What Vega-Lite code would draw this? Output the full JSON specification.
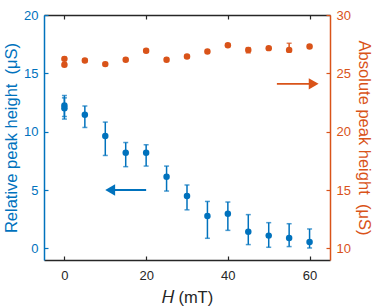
{
  "$schema": "https://vega.github.io/schema/vega-lite/v6.json",
  "width": 286,
  "height": 245,
  "autosize": {"type": "none"},
  "padding": {"left": 44, "top": 15, "right": 44, "bottom": 46},
  "config": {
    "font": "Liberation Sans",
    "view": {"stroke": null},
    "axis": {
      "grid": false,
      "labelFontSize": 13,
      "titleFontSize": 16.5,
      "titleFontWeight": "normal",
      "tickSize": -4,
      "domainWidth": 1.5,
      "tickWidth": 1.2,
      "labelPadding": 10
    }
  },
  "datasets": {
    "rel": [
      {"H": 0, "v": 12.25, "lo": 11.3, "hi": 13.1},
      {"H": 0, "v": 12.0, "lo": 11.08, "hi": 12.9},
      {"H": 5, "v": 11.45, "lo": 10.36, "hi": 12.2},
      {"H": 10, "v": 9.62, "lo": 7.96, "hi": 10.82},
      {"H": 15, "v": 8.2, "lo": 7.0, "hi": 9.07},
      {"H": 20, "v": 8.2, "lo": 7.05, "hi": 8.88},
      {"H": 25, "v": 6.14, "lo": 4.91, "hi": 7.05},
      {"H": 30, "v": 4.48, "lo": 3.3, "hi": 5.43},
      {"H": 35, "v": 2.77, "lo": 0.86, "hi": 4.02},
      {"H": 40, "v": 2.97, "lo": 1.54, "hi": 3.97},
      {"H": 45, "v": 1.43, "lo": 0.32, "hi": 2.89},
      {"H": 50, "v": 1.09, "lo": 0.09, "hi": 2.2},
      {"H": 55, "v": 0.89, "lo": 0.15, "hi": 2.11},
      {"H": 60, "v": 0.55, "lo": 0.03, "hi": 1.66}
    ],
    "abs": [
      {"H": 0, "v": 26.24, "lo": 26.1, "hi": 26.38},
      {"H": 0, "v": 25.73, "lo": 25.6, "hi": 25.86},
      {"H": 5, "v": 26.1, "lo": 25.98, "hi": 26.22},
      {"H": 10, "v": 25.79, "lo": 25.66, "hi": 25.92},
      {"H": 15, "v": 26.17, "lo": 26.05, "hi": 26.29},
      {"H": 20, "v": 26.93, "lo": 26.8, "hi": 27.06},
      {"H": 25, "v": 26.16, "lo": 26.03, "hi": 26.29},
      {"H": 30, "v": 26.44, "lo": 26.32, "hi": 26.56},
      {"H": 35, "v": 26.87, "lo": 26.75, "hi": 26.99},
      {"H": 40, "v": 27.41, "lo": 27.29, "hi": 27.53},
      {"H": 45, "v": 27.01, "lo": 26.75, "hi": 27.2},
      {"H": 50, "v": 27.16, "lo": 27.04, "hi": 27.28},
      {"H": 55, "v": 27.01, "lo": 26.85, "hi": 27.58},
      {"H": 60, "v": 27.3, "lo": 27.18, "hi": 27.42}
    ],
    "relArrow": [{"H": 20, "H2": 11.2, "v": 5}],
    "absArrow": [{"H": 52, "H2": 61, "v": 24.1}]
  },
  "layer": [
    {
      "layer": [
        {
          "data": {"name": "rel"},
          "mark": {
            "type": "errorbar",
            "color": "#0072BD",
            "thickness": 1.5,
            "rule": {"color": "#0072BD", "strokeWidth": 1.5},
            "ticks": {"color": "#0072BD", "size": 5, "thickness": 1.5}
          },
          "encoding": {
            "x": {
              "field": "H", "type": "quantitative",
              "scale": {"domain": [-5, 65], "nice": false, "zero": false},
              "axis": {
                "orient": "bottom", "values": [0, 20, 40, 60],
                "title": "𝐻 (mT)", "domainColor": "#262626", "tickColor": "#262626",
                "labelColor": "#262626", "titleColor": "#262626",
                "labelPadding": 13, "titlePadding": 7
              }
            },
            "y": {
              "field": "lo", "type": "quantitative",
              "scale": {"domain": [-1, 20], "nice": false, "zero": false},
              "axis": {
                "orient": "left", "values": [0, 5, 10, 15, 20],
                "title": "Relative peak height\u00a0 (μS)",
                "domainColor": "#0072BD", "tickColor": "#0072BD",
                "labelColor": "#0072BD", "titleColor": "#0072BD", "titlePadding": 4
              }
            },
            "y2": {"field": "hi"}
          }
        },
        {
          "data": {"name": "rel"},
          "mark": {"type": "point", "filled": true, "opacity": 1, "size": 42, "color": "#0072BD"},
          "encoding": {
            "x": {
              "field": "H", "type": "quantitative",
              "axis": {"orient": "top", "values": [0, 20, 40, 60], "labels": false, "title": null, "domainColor": "#262626", "tickColor": "#262626"}
            },
            "y": {"field": "v", "type": "quantitative"}
          }
        },
        {
          "data": {"name": "relArrow"},
          "mark": {"type": "rule", "color": "#0072BD", "strokeWidth": 1.8},
          "encoding": {
            "x": {"field": "H", "type": "quantitative", "axis": null},
            "x2": {"field": "H2"},
            "y": {"field": "v", "type": "quantitative"}
          }
        },
        {
          "data": {"name": "relArrow"},
          "mark": {"type": "point", "shape": "triangle-left", "filled": true, "opacity": 1, "size": 130, "color": "#0072BD"},
          "encoding": {
            "x": {"field": "H2", "type": "quantitative", "axis": null},
            "y": {"field": "v", "type": "quantitative"}
          }
        }
      ]
    },
    {
      "layer": [
        {
          "data": {"name": "abs"},
          "mark": {
            "type": "errorbar",
            "color": "#D95319",
            "rule": {"color": "#D95319", "strokeWidth": 1.5},
            "ticks": {"color": "#D95319", "size": 5, "thickness": 1.5}
          },
          "encoding": {
            "x": {"field": "H", "type": "quantitative", "axis": null},
            "y": {
              "field": "lo", "type": "quantitative",
              "scale": {"domain": [9, 30], "nice": false, "zero": false},
              "axis": {
                "orient": "right", "values": [10, 15, 20, 25, 30],
                "title": "Absolute peak height\u00a0 (μS)",
                "domainColor": "#D95319", "tickColor": "#D95319",
                "labelColor": "#D95319", "titleColor": "#D95319", "titlePadding": 5
              }
            },
            "y2": {"field": "hi"}
          }
        },
        {
          "data": {"name": "abs"},
          "mark": {"type": "point", "filled": true, "opacity": 1, "size": 42, "color": "#D95319"},
          "encoding": {
            "x": {"field": "H", "type": "quantitative", "axis": null},
            "y": {"field": "v", "type": "quantitative"}
          }
        },
        {
          "data": {"name": "absArrow"},
          "mark": {"type": "rule", "color": "#D95319", "strokeWidth": 1.8},
          "encoding": {
            "x": {"field": "H", "type": "quantitative", "axis": null},
            "x2": {"field": "H2"},
            "y": {"field": "v", "type": "quantitative"}
          }
        },
        {
          "data": {"name": "absArrow"},
          "mark": {"type": "point", "shape": "triangle-right", "filled": true, "opacity": 1, "size": 130, "color": "#D95319"},
          "encoding": {
            "x": {"field": "H2", "type": "quantitative", "axis": null},
            "y": {"field": "v", "type": "quantitative"}
          }
        }
      ]
    }
  ],
  "resolve": {"scale": {"y": "independent"}}
}
